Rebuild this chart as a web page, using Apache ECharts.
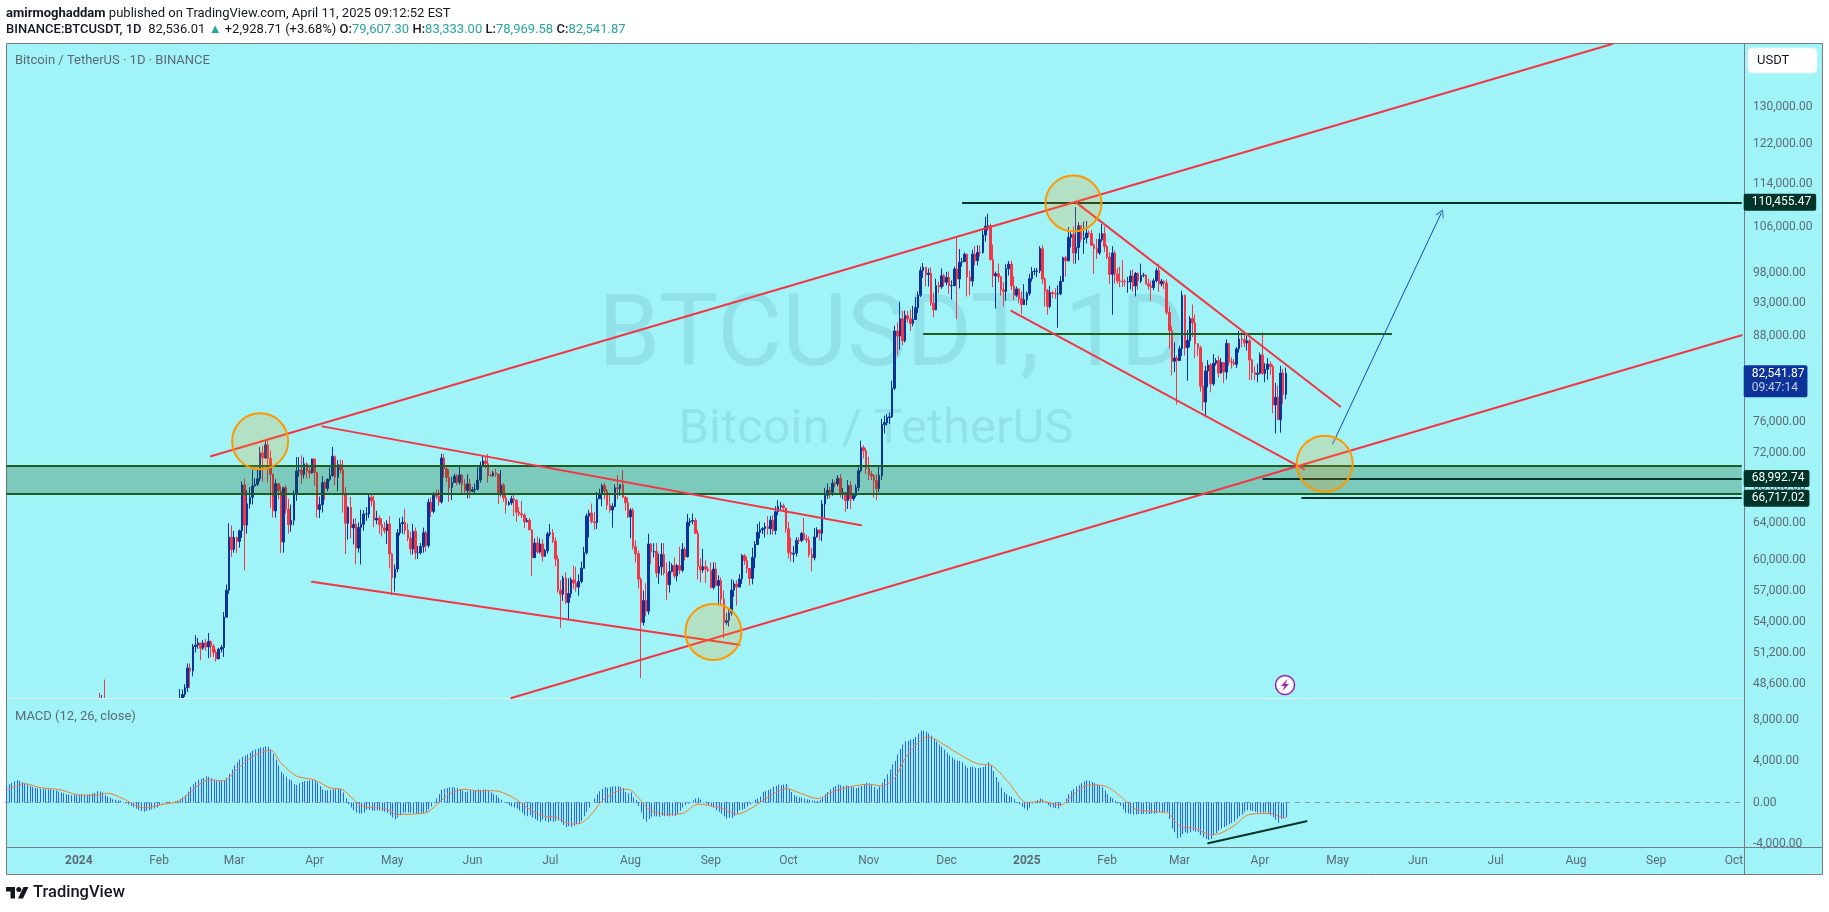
<!DOCTYPE html>
<html lang="en">
<head>
    <meta charset="UTF-8">
    <title>BTCUSDT 1D</title>
    <script src="https://cdn.jsdelivr.net/npm/echarts@6/dist/echarts.min.js"></script>
    <style>html,body{margin:0;background:#fff}#chart{width:1829px;height:912px}</style>
</head>
<body>
<div id="chart"></div>
<script>
    var FONT = 'Roboto, sans-serif';
    var TEXT_GREY = '#5d6a75';

    // daily closes, highs, lows from 2024-01-01, one line per month
    var closes = [
        44180,44946,42845,44151,44162,43989,43943,46970,46139,46627,46368,42853,42842,41796,42511,43154,42742,41262,41618,41665,41545,39507,39845,40077,39933,41816,42120,42035,43288,42952,42582,
        43082,43200,43011,42582,42708,43098,44349,45288,47132,47751,48293,49958,49699,51811,51938,52130,51661,52122,51779,52258,51849,51304,50731,51571,51733,54476,57037,62432,61130,
        62387,61987,63113,68245,63724,66074,66823,68124,68313,68955,72078,71452,73072,71388,69499,65291,68390,67548,61912,67913,65491,63778,64262,67210,69880,69988,69455,70744,69892,69645,71333,
        69702,65446,65980,68508,67837,68896,69360,71620,69146,70631,70006,67116,63924,65662,63419,63793,61277,63470,63818,64941,64941,66819,66407,64276,64481,63755,63419,63113,63841,60672,
        58254,59123,62889,63891,64031,63161,62334,61187,63049,60792,60793,61448,62901,61552,66256,65231,67051,66940,66278,71446,70136,69122,67929,68526,69265,68518,69394,68296,67578,68364,67491,
        67706,67751,68804,70567,71082,70757,69355,69310,69648,69508,67321,68241,66747,66006,66191,66639,66490,65140,64960,64828,64096,64245,63210,60277,61806,60864,61706,60427,60986,62772,
        62900,62023,60145,57042,56639,58230,55857,56714,58050,57717,57334,57889,59204,60797,64724,65043,64087,63987,66660,67139,68165,67532,65936,65372,65777,67912,67813,68255,66819,66201,64619,
        65357,61415,60680,58116,53991,56034,55027,61710,60880,60945,58719,59354,60609,58739,57560,58874,59491,58427,59479,59014,61158,60381,64037,64157,64220,62834,59415,59034,59359,59119,58973,
        57301,59132,57487,57971,56160,53962,54160,54869,57042,57635,57339,58127,60499,60000,59182,58192,60309,61649,62947,63201,63348,63578,63339,64262,63143,65181,65769,65858,65602,63327,
        60805,60649,60752,62086,62058,62819,62224,62131,60583,60276,62445,63193,62851,66046,67041,67612,67399,68428,68362,69001,67360,67361,66432,68161,66642,67014,67929,69908,72720,72339,70215,
        69482,69289,68741,67811,69359,75639,75904,76538,76649,80474,88701,87955,90584,87250,91066,90558,89845,90464,92310,94286,98317,98892,97672,97900,93010,91965,95863,95643,97460,96407,
        97185,95840,95849,98587,96945,99740,99831,101109,97276,96593,101125,100001,101424,101420,104463,106058,106133,100204,97461,97805,97291,95186,94881,98663,99429,95791,94299,95300,93738,92792,93576,
        94591,96984,98174,98236,98314,102078,96922,95043,92484,94701,94566,94488,94516,96534,100505,99987,104077,104556,101331,102260,106144,103706,103960,104819,104714,102682,102087,101332,103703,104735,102429,
        100635,97700,101328,97763,96612,96554,96506,96444,96462,97430,95778,97869,96608,97500,97569,96118,95773,95539,96635,98333,96125,96577,96273,91552,88733,84250,84708,84349,
        86064,94270,86220,87281,90606,89931,86801,86222,80734,78595,82862,83722,81066,83969,84343,82579,84075,82718,86854,84167,84043,83832,86054,87498,87392,86909,87232,84424,82649,82390,82550,
        85158,82516,83102,83843,83504,78214,79236,76272,82580,79607,82541.87
    ];
    var highs = [
        44700,45900,45500,44770,44800,44200,44500,47250,47890,47700,48970,46500,43250,43070,43400,43570,43200,42930,42200,42000,41880,41700,40550,40550,40300,42225,42200,42850,43300,43880,43750,
        43400,43380,43530,43100,43550,43380,44490,45590,48200,48160,48590,50330,50350,52040,52820,52570,52000,52370,52480,53020,52360,52030,51540,51700,51960,54940,57590,63930,63680,
        63110,62480,63250,68650,69000,67650,67980,70000,69010,70000,72800,72950,73650,73777,72400,69000,68900,68080,68130,68030,68240,66650,65990,67620,71550,71560,71770,71530,70900,70350,71370,
        71300,69690,66900,69290,68720,69000,70300,72800,71750,71200,71260,71200,68000,65800,66870,64400,64480,64000,65430,65380,65700,67220,67200,67000,65300,64800,64460,64050,64250,64700,
        60800,59600,63300,64500,64650,65500,63900,62990,63850,63450,61500,61800,63450,63120,66650,66800,67400,67700,67700,71950,71980,70600,70070,69200,69560,69500,70600,69500,68900,69500,69000,
        68000,68400,70300,71000,71750,71600,71950,69560,69900,70150,69550,70000,68450,67300,66400,66990,67300,66600,65700,66400,65000,64500,64500,62400,62300,62500,62300,62200,61200,63000,
        63850,63300,62400,60500,58000,58450,58800,58200,58300,59470,59350,58600,59900,61400,65000,65400,66100,65150,67400,67800,68400,68480,67800,67100,66150,68300,69400,68300,70000,66950,66800,
        65600,65600,62100,61000,58300,57000,57700,62800,61800,61800,61800,60700,61800,61800,59800,59900,59700,60300,59650,61400,61800,61400,64950,64500,65000,64500,63200,60200,61200,60000,59400,
        59800,59800,59800,58500,58300,57000,54850,55300,58100,58000,58000,58600,60670,60650,60400,59200,61300,62000,63850,64100,63500,64000,64700,64700,64800,65800,66500,66300,66100,65500,
        64100,62400,61500,62400,62400,63000,64500,62700,62500,61300,63400,63500,63300,66500,67900,68400,68000,68900,68700,69400,69500,67900,67400,68800,68700,67300,68300,70300,73600,73000,72700,
        71600,69900,69500,69500,70500,76400,76800,77000,77200,81500,89500,89990,93265,91800,91850,91800,92000,92600,94000,94900,99000,99600,98600,98700,98900,94700,97000,96500,98700,97800,
        98100,98200,96700,99000,104090,102000,100500,101400,101200,98270,101900,102540,102650,102650,105250,107780,108353,106500,102800,98170,99500,97400,96400,99400,99960,100000,97400,95700,95400,94900,96100,
        94900,97800,98950,98750,98800,102500,102700,97200,95300,95800,95000,95400,95900,97400,100700,100800,105900,105000,106000,109588,106800,106300,106900,107000,105300,105400,103000,103800,104800,106450,106000,
        102750,101450,102500,101750,98800,99000,100100,96900,97300,98350,98500,98100,98000,99500,97950,97700,97000,96700,97000,98800,99500,96950,96650,96900,92500,89400,87000,85100,
        86500,95000,94400,88900,91000,92800,91250,86900,86500,84100,83600,84400,84000,85300,84700,85050,84700,84050,87450,86400,84800,84550,86300,88750,88500,88300,88000,87500,84600,83500,83900,
        85500,88500,84000,84700,84250,83800,81200,80850,83600,83150,83333
    ];
    var lows = [
        42180,44150,40750,42630,42600,43630,43630,43200,44300,44300,45600,41500,42440,41720,41720,42050,42200,40700,40280,41400,41400,39430,38555,39480,39500,39800,41400,41620,41810,42680,42300,
        42300,42680,42890,42260,42510,42550,42870,44340,45230,46800,47550,47950,48300,49250,51300,51620,50620,51520,51440,50800,50880,50900,50500,50950,51300,50900,54420,56690,60360,
        60800,60770,61320,62350,59000,62800,65540,66000,68030,68100,68640,68620,71330,68550,65630,64550,64530,66610,60760,60800,65000,62800,63000,63700,66400,69200,68370,69000,69000,69000,69570,
        68100,64550,64500,65100,66500,67500,68700,69180,68200,67500,69570,65100,60660,62150,62300,61650,59600,60800,59600,63100,64200,64500,65800,63500,63800,62800,62500,62800,61700,59190,
        56550,56900,58800,62600,62800,62700,62000,60600,60600,60100,60150,60600,60800,60900,61300,64600,65000,66600,65850,66100,69100,68600,66300,66500,68500,68200,68250,67300,67100,66700,66700,
        67400,67300,67600,68500,70400,70150,68500,69210,69200,69200,66050,66900,66300,65000,65850,65950,64700,64100,64700,64500,63400,64000,63200,58400,60700,60700,60700,59900,60600,60700,
        62500,61800,59400,56800,53500,56000,55720,54260,56300,57150,56900,56500,57700,59200,60600,62400,63900,63200,63300,66700,65800,66600,65400,65100,63450,65700,66600,67000,66700,65300,64500,
        62300,61100,59800,57200,49100,53700,54560,54700,59600,60300,58300,57650,58500,58500,56100,56800,58800,58200,57900,58600,58800,60000,60300,63600,63800,62800,58100,57800,58750,57750,58800,
        57200,57100,57400,55600,55600,52550,53750,53600,54600,56400,55550,57300,57650,59550,58700,57500,57600,59200,61600,62300,62750,62400,62700,62700,62700,62700,64800,65400,65400,62900,
        60200,59900,59800,60400,61700,61900,62100,61800,60300,58900,60000,62400,62100,62000,64500,66600,66700,67000,68000,68100,66800,66600,65200,65500,65500,66400,66800,67500,69700,71400,69500,
        68800,68800,66800,66500,67400,68800,74500,75500,75700,76500,80200,85100,85900,86600,87000,90000,88700,89400,90800,91500,94000,97100,95700,95700,92600,90800,91900,94600,95300,95700,
        95900,94500,93600,95700,90500,95400,99000,99800,94100,94300,95700,99200,99200,100700,101200,103300,105300,100000,95600,92175,96400,94200,92500,93400,97500,95150,93500,94000,93000,91300,92900,
        92700,94200,96500,97550,97250,97900,96100,92500,91200,92200,93800,93700,89200,94300,96500,97300,99900,102300,99500,99500,100100,103200,101200,103000,104100,102500,97800,100300,101000,103300,101500,
        100300,96150,91230,96150,96150,95600,95650,95700,94700,95250,94900,94100,95200,96250,97200,96050,95200,93400,95100,96400,94800,95700,95300,91200,86050,82250,82700,78258,
        84300,85000,85100,81500,86300,87800,84650,85000,80000,77450,76600,80600,79900,80800,83650,81900,82500,81150,81700,83600,83200,83600,83300,85500,86300,86300,85800,81600,81600,81550,81300,
        82400,82300,81300,81650,82300,77100,74500,76200,74600,78350,78970
    ];
    var firstOpen = 42283;

    // MACD histogram per day, starts 2023-12-04
    var macdHist = [
        1600,1760,1920,2050,2140,2110,1980,1860,1730,1600,1500,1410,1380,1340,1310,1280,1250,1280,1220,1150,1060,960,900,800,740,700,770,700,
        700,770,700,740,800,860,930,1090,1060,960,700,580,450,320,260,220,160,60,-100,-190,-320,-450,-580,-700,-830,-900,-830,-740,-640,-580,-510,
        -260,-100,0,60,100,60,130,190,320,480,700,1060,1500,1760,1980,2210,2300,2400,2530,2500,2340,2210,2110,2050,2080,2180,2400,2750,3200,
        3580,3900,4160,4420,4540,4670,4800,5020,5120,5220,5280,5340,5410,5380,5120,4700,4160,3580,2940,2720,2500,2240,2140,1760,1700,1860,1980,2080,2110,2140,2140,
        2140,1920,1600,1250,1150,1180,1220,1250,1280,1310,1280,960,380,-160,-480,-740,-960,-1060,-1060,-960,-670,-700,-770,-800,-740,-770,-830,-900,-990,-1220,
        -1440,-1630,-1440,-1220,-990,-960,-960,-990,-1020,-1060,-1060,-1060,-1020,-900,-670,-380,-100,380,800,1250,1340,1410,1470,1470,1440,1410,1280,1150,1020,1060,1150,
        1180,1220,1250,1220,1250,1250,1150,960,800,700,450,260,60,-60,-260,-380,-480,-580,-770,-960,-1220,-1340,-1220,-1440,-1600,-1760,-1860,-1660,-1790,-1920,
        -1790,-1860,-1790,-1730,-1920,-2180,-2400,-2300,-2370,-2240,-2080,-2020,-1760,-1340,-900,-480,0,380,800,1090,1340,1470,1410,1470,1540,1570,1570,1500,1410,1020,900,
        960,480,220,-320,-960,-1600,-1860,-1600,-1380,-1340,-1340,-1410,-1280,-1340,-1310,-1340,-1280,-1310,-1120,-800,-480,-260,-100,60,220,380,450,260,60,-100,-260,
        -380,-510,-740,-900,-1090,-1340,-1540,-1470,-1500,-1280,-1060,-740,-700,-610,-380,-190,60,260,380,580,1020,1120,1220,1340,1540,1600,1730,1660,1730,1790,
        1340,1020,700,580,510,450,380,320,260,190,160,160,260,450,800,1020,1280,1470,1600,1730,1660,1600,1660,1570,1540,1470,1410,1470,1600,1760,1920,
        1860,1660,1470,1280,1540,1920,2300,2720,3200,3680,4000,4640,5180,5600,5920,5980,6080,6140,6340,6660,6940,6940,6850,6660,6460,6140,5890,5600,5380,5090,
        4800,4540,4350,4160,4060,4000,3900,3580,3360,3420,3460,3360,3300,3360,3420,3580,3900,3580,3040,2460,1980,1440,1020,830,640,540,320,60,-160,-380,-580,
        -740,-480,-100,100,260,380,320,0,-260,-420,-480,-540,-580,-320,0,380,800,1120,1340,1540,1660,1860,2020,2140,2110,1980,1860,1760,1660,1470,1150,
        800,540,380,160,-100,-320,-640,-990,-1060,-1120,-1150,-1150,-1090,-1120,-1090,-1120,-1120,-1060,-1090,-1020,-960,-990,-900,-900,-1600,-2500,-2880,-3460,
        -3360,-3040,-2880,-2980,-2880,-2720,-2820,-2880,-3140,-3360,-3520,-3620,-3520,-3200,-2940,-2720,-2500,-2370,-2240,-2110,-1980,-1860,-1600,-1340,-1150,-900,-740,-770,-830,-900,-960,
        -990,-960,-960,-1020,-1220,-1410,-1660,-1950,-1600,-1540,-1440
    ];
    // orange line, days counted from 2024-01-01
    var signalDays = [-28,-21,-15,-7,-1,7,11,17,25,33,39,45,50,56,61,67,74,78,84,91,97,102,108,111,118,123,134,137,143,149,154,160,167,175,180,184,190,194,198,202,208,212,216,220,227,233,239,243,248,254,259,265,273,279,285,292,298,305,310,315,320,328,334,339,347,352,359,366,372,379,384,390,396,402,408,417,420,425,431,437,441,446,452,460,464,466];
    var signalValues = [1180,1820,1440,1220,770,700,900,380,-510,-160,160,1440,2180,2110,3200,4420,5060,3840,2560,2180,1410,1220,-160,-450,-580,-1150,-990,-480,800,1280,1120,1150,580,-800,-1340,-1410,-2080,-1980,-1120,160,1120,1280,480,-640,-1150,-1060,-160,-260,-540,-1120,-640,320,1340,860,380,1120,1540,1760,1600,2400,4640,6340,5600,4800,3740,3620,1920,0,100,-260,800,1700,1600,640,-640,-900,-960,-2240,-2500,-3100,-2940,-2240,-1150,-1060,-1380,-1470];

    var priceTicks = [130000,122000,114000,106000,98000,93000,88000,76000,72000,68000,64000,60000,57000,54000,51200,48600];
    var macdTicks = [8000,4000,0,-4000];
    var monthNames = ['Jan','Feb','Mar','Apr','May','Jun','Jul','Aug','Sep','Oct','Nov','Dec'];

    // drawings as [day, price]
    var redLines = [
        [[50.7,71650],[592.4,144680]],
        [[166.5,47460],[642,88060]],
        [[94.3,75400],[301.9,63710]],
        [[89.5,57850],[254.8,51960]],
        [[385.3,110455],[486.7,78010]],
        [[359.5,91800],[472.8,70100]]
    ];
    var circles = [[70,73500],[245,53120],[384,110250],[480.9,70760]];
    var zoneTop = 70550, zoneBottom = 67170;
    var midLine = {from: 325.6, to: 506.5, price: 88360};
    var levels = [
        {from: 341.4, price: 110455.47},
        {from: 457.2, price: 68992.74},
        {from: 471.5, price: 66717.02}
    ];
    var arrowLine = [[483.7,73130],[526,108460]];
    var divergence = [[435.6,-3930],[474.2,-1807]];

    var START_OFFSET = 28, DAY_COUNT = 671;
    var lastIdx = DAY_COUNT - 1;
    function idx(day) { return day + START_OFFSET; }

    var dates = [];
    for (var i = 0; i < DAY_COUNT; i++) {
        dates.push(new Date(Date.UTC(2023, 11, 4 + i)).toISOString().slice(0, 10));
    }

    var candles = [];
    for (i = 0; i < START_OFFSET; i++) candles.push(['-','-','-','-']);
    closes.forEach(function (c, k) {
        var o = k === 0 ? firstOpen : closes[k - 1];
        candles.push([o, c, lows[k], highs[k]]);
    });

    function moneyFmt(v) {
        return (+v).toLocaleString('en-US', {minimumFractionDigits: 2, maximumFractionDigits: 2});
    }

    var levelLines = levels.map(function (l) {
        return [{
            coord: [idx(l.from), l.price],
            lineStyle: {color: '#00332a', width: 2},
            label: {
                show: true, position: 'end', distance: 2, formatter: moneyFmt(l.price),
                color: '#fff', backgroundColor: '#00332a', borderRadius: 2,
                padding: [3, 5, 2, 8], fontFamily: FONT, fontSize: 12
            }
        }, {coord: [lastIdx, l.price]}];
    });

    var series = [{
        type: 'candlestick',
        xAxisIndex: 0, yAxisIndex: 0,
        data: candles,
        barWidth: 2,
        z: 2,
        itemStyle: {color: '#0d3399', borderColor: '#0d3399', color0: '#f23645', borderColor0: '#f23645', borderWidth: 1},
        markArea: {
            silent: true, z: 3,
            itemStyle: {color: 'rgba(27,94,32,0.28)'},
            data: [[{coord: [0, zoneTop]}, {coord: [lastIdx, zoneBottom]}]]
        },
        markLine: {
            silent: true, z: 4, symbol: 'none', animation: false,
            lineStyle: {type: 'solid'},
            data: [
                [{coord: [0, zoneTop], lineStyle: {color: '#1b5e20', width: 2}, label: {show: false}}, {coord: [lastIdx, zoneTop]}],
                [{coord: [0, zoneBottom], lineStyle: {color: '#1b5e20', width: 2}, label: {show: false}}, {coord: [lastIdx, zoneBottom]}],
                [{coord: [idx(midLine.from), midLine.price], lineStyle: {color: '#1b5e20', width: 2}, label: {show: false}}, {coord: [idx(midLine.to), midLine.price]}],
                [{
                    coord: [idx(arrowLine[0][0]), arrowLine[0][1]],
                    lineStyle: {color: '#1a47b8', width: 1},
                    symbol: 'none',
                    label: {show: false}
                }, {coord: [idx(arrowLine[1][0]), arrowLine[1][1]], symbol: 'path://M0 10 L5 0 L10 10 L9 10 L5 2 L1 10 Z', symbolSize: [9, 8]}],
                [{
                    coord: [idx(466), closes[466]],
                    lineStyle: {color: 'rgba(0,0,0,0)', width: 0},
                    label: {
                        show: true, position: 'end', distance: 2,
                        formatter: '{a|' + moneyFmt(closes[466]) + '}\n{b|09:47:14}',
                        backgroundColor: '#0d3399', borderRadius: 2, padding: [2, 3, 2, 8], offset: [0, 8],
                        rich: {
                            a: {color: '#fff', fontFamily: FONT, fontSize: 12, lineHeight: 14},
                            b: {color: '#c5cfe8', fontFamily: FONT, fontSize: 12, lineHeight: 14}
                        }
                    }
                }, {coord: [lastIdx, closes[466]]}]
            ].concat(levelLines)
        }
    }];

    redLines.forEach(function (l) {
        series.push({
            type: 'line', xAxisIndex: 0, yAxisIndex: 0, z: 5, silent: true, showSymbol: false, symbol: 'none',
            lineStyle: {color: '#f23645', width: 2, cap: 'round'},
            data: l.map(function (p) { return [idx(p[0]), p[1]]; })
        });
    });

    series.push({
        type: 'scatter', xAxisIndex: 0, yAxisIndex: 0, z: 6, silent: true,
        symbolSize: 56,
        itemStyle: {color: 'rgba(255,152,0,0.2)', borderColor: '#ff9800', borderWidth: 2, opacity: 1},
        data: circles.map(function (p) { return [idx(p[0]), p[1]]; })
    });

    // histogram as 1px crisp bars
    series.push({
        type: 'custom', xAxisIndex: 1, yAxisIndex: 1, silent: true, z: 3,
        encode: {x: 0, y: 1},
        data: macdHist.map(function (v, k) { return [k, v]; }),
        renderItem: function (params, api) {
            var top = api.coord([api.value(0), api.value(1)]);
            var base = api.coord([api.value(0), 0]);
            return {
                type: 'rect',
                shape: {x: Math.round(top[0]), y: Math.min(top[1], base[1]), width: 1, height: Math.abs(top[1] - base[1])},
                style: {fill: '#2962ff'}
            };
        },
        markLine: {
            silent: true, symbol: 'none', z: 3,
            lineStyle: {color: '#8d9aa5', type: [5, 5], width: 1},
            label: {show: false},
            data: [{yAxis: 0}]
        }
    });
    series.push({
        type: 'line', xAxisIndex: 1, yAxisIndex: 1, z: 4, silent: true, showSymbol: false, symbol: 'none', smooth: 0.3,
        lineStyle: {color: '#f57c20', width: 1},
        data: signalDays.map(function (d, k) { return [idx(d), signalValues[k]]; })
    });
    series.push({
        type: 'line', xAxisIndex: 1, yAxisIndex: 1, z: 5, silent: true, showSymbol: false, symbol: 'none',
        lineStyle: {color: '#00332a', width: 2, cap: 'round'},
        data: divergence.map(function (p) { return [idx(p[0]), p[1]]; })
    });

    var header2 =
        '{b|BINANCE:BTCUSDT, 1D}  {n|82,536.01 }{g|▲}{n| +2,928.71 (+3.68%) }{b|O:}{g|79,607.30} {b|H:}{g|83,333.00} {b|L:}{g|78,969.58} {b|C:}{g|82,541.87}';

    var graphics = [
        {type: 'rect', z: 0, shape: {x: 6.5, y: 43.5, width: 1816, height: 831}, style: {fill: '#a0f4f8', stroke: '#787b86', lineWidth: 1}},
        // macd pane covers candles that run below the price pane
        {type: 'rect', z: 2.5, shape: {x: 7, y: 698, width: 1737, height: 149}, style: {fill: '#a0f4f8'}},
        {type: 'line', z: 3, shape: {x1: 1744.5, y1: 44, x2: 1744.5, y2: 875}, style: {stroke: '#787b86', lineWidth: 1}},
        {type: 'line', z: 3, shape: {x1: 7, y1: 847.5, x2: 1822, y2: 847.5}, style: {stroke: '#787b86', lineWidth: 1}},
        {type: 'line', z: 3, shape: {x1: 7, y1: 698.5, x2: 1744, y2: 698.5}, style: {stroke: '#dff3f6', lineWidth: 1}},

        {type: 'text', z: 1, x: 6, y: 7, style: {
            text: '{b|amirmoghaddam} {n|published on TradingView.com, April 11, 2025 09:12:52 EST}',
            rich: {
                b: {fontFamily: FONT, fontSize: 13, fontWeight: 700, fill: '#131722'},
                n: {fontFamily: FONT, fontSize: 13, fill: '#131722'}
            }
        }},
        {type: 'text', z: 1, x: 6, y: 23, style: {
            text: header2,
            rich: {
                b: {fontFamily: FONT, fontSize: 13, fontWeight: 500, fill: '#131722'},
                n: {fontFamily: FONT, fontSize: 13, fill: '#131722'},
                g: {fontFamily: FONT, fontSize: 13, fill: '#26a69a'}
            }
        }},
        {type: 'text', z: 1, x: 15, y: 54, style: {text: 'Bitcoin / TetherUS · 1D · BINANCE', font: '13px ' + FONT, fill: TEXT_GREY}},
        {type: 'text', z: 4, x: 15, y: 710, style: {text: 'MACD (12, 26, close)', font: '13px ' + FONT, fill: TEXT_GREY}},

        {type: 'text', z: 1, x: 892, y: 340, style: {text: 'BTCUSDT, 1D', font: '100px ' + FONT, fill: 'rgba(30,80,110,0.11)', textAlign: 'center', textVerticalAlign: 'middle'}},
        {type: 'text', z: 1, x: 876, y: 431, style: {text: 'Bitcoin / TetherUS', font: '49px ' + FONT, fill: 'rgba(30,80,110,0.11)', textAlign: 'center', textVerticalAlign: 'middle'}},

        {type: 'rect', z: 7, shape: {x: 1748, y: 48, width: 69, height: 25, r: 4}, style: {fill: '#fff', stroke: '#dff3f6'}},
        {type: 'text', z: 8, x: 1757, y: 54, style: {text: 'USDT', font: '13px ' + FONT, fill: '#131722'}},

        {type: 'circle', z: 7, shape: {cx: 1285, cy: 685, r: 9.5}, style: {fill: '#fff', stroke: '#9c27b0', lineWidth: 1.6}},
        {type: 'polygon', z: 8, shape: {points: [[1287.5,679],[1281,686],[1284.5,686],[1282.5,691],[1289,684],[1285.5,684]]}, style: {fill: '#9c27b0'}},

        {type: 'polygon', z: 1, shape: {points: [[6,887],[15,887],[15,898.5],[10.5,898.5],[10.5,891.5],[6,891.5]]}, style: {fill: '#131722'}},
        {type: 'polygon', z: 1, shape: {points: [[23.5,887],[28.5,887],[23,898.5],[18,898.5]]}, style: {fill: '#131722'}},
        {type: 'circle', z: 1, shape: {cx: 18.8, cy: 889.5, r: 2.5}, style: {fill: '#131722'}},
        {type: 'text', z: 1, x: 33, y: 884, style: {text: 'TradingView', font: '500 16.5px ' + FONT, fill: '#131722'}}
    ];

    var myChart = echarts.init(document.getElementById('chart'));
    myChart.setOption({
        animation: false,
        backgroundColor: '#fff',
        graphic: graphics,
        grid: [
            {left: 5, top: 44, width: 1738, height: 654},
            {left: 5, top: 698, width: 1738, height: 149}
        ],
        xAxis: [
            {type: 'category', gridIndex: 0, data: dates, boundaryGap: true,
                axisLine: {show: false}, axisTick: {show: false}, axisLabel: {show: false}, splitLine: {show: false}},
            {type: 'category', gridIndex: 1, data: dates, boundaryGap: true,
                axisLine: {show: false}, axisTick: {show: false}, splitLine: {show: false},
                axisLabel: {
                    show: true, margin: 8, color: TEXT_GREY, fontFamily: FONT, fontSize: 12,
                    hideOverlap: false,
                    interval: function (index, value) { return value.slice(8) === '01'; },
                    formatter: function (value) {
                        var m = +value.slice(5, 7);
                        return m === 1 ? '{y|' + value.slice(0, 4) + '}' : monthNames[m - 1];
                    },
                    rich: {y: {fontFamily: FONT, fontSize: 12, fontWeight: 700, color: TEXT_GREY}}
                }}
        ],
        yAxis: [
            {type: 'log', gridIndex: 0, position: 'right', min: 47460, max: 144680,
                axisLine: {show: false}, axisTick: {show: false}, splitLine: {show: false},
                axisLabel: {
                    margin: 10, color: TEXT_GREY, fontFamily: FONT, fontSize: 12, hideOverlap: false,
                    customValues: priceTicks, formatter: moneyFmt
                }},
            {type: 'value', gridIndex: 1, position: 'right', min: -4300, max: 10100,
                axisLine: {show: false}, axisTick: {show: false}, splitLine: {show: false},
                axisLabel: {
                    margin: 10, color: TEXT_GREY, fontFamily: FONT, fontSize: 12, hideOverlap: false,
                    customValues: macdTicks, formatter: moneyFmt
                }}
        ],
        series: series
    });
</script>
</body>
</html>
